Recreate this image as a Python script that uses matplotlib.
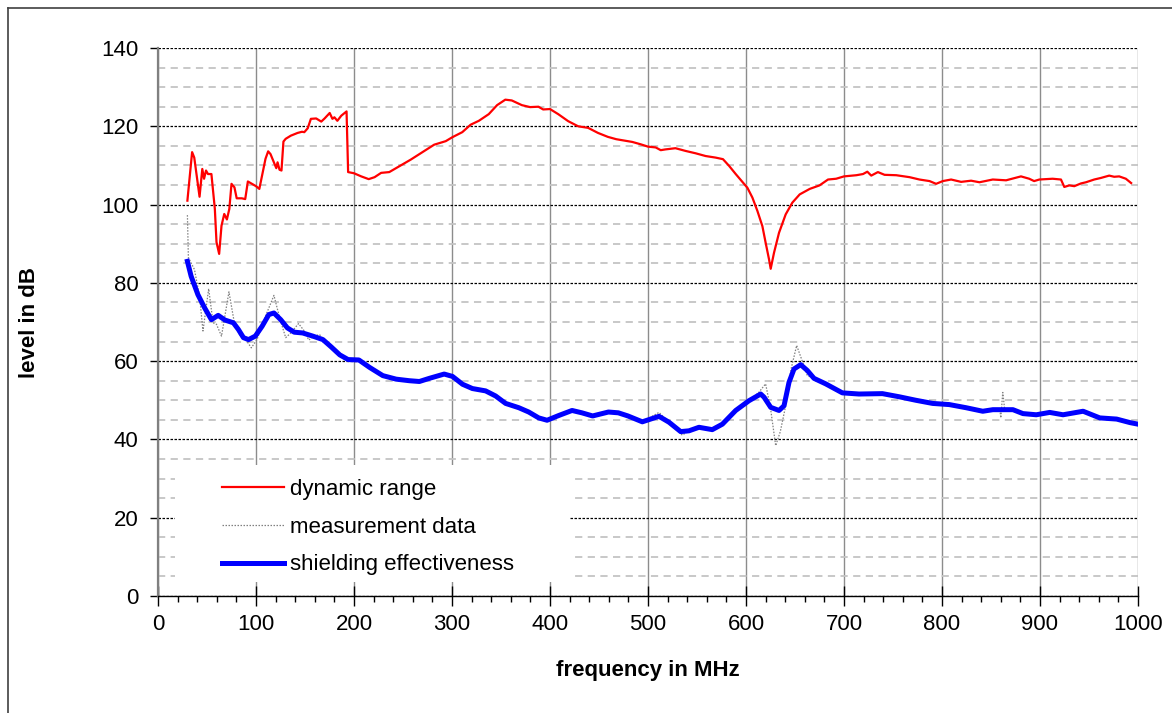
import matplotlib.pyplot as plt
import numpy as np
from matplotlib.lines import Line2D
from matplotlib.patches import Rectangle
from matplotlib.ticker import MultipleLocator

plt.rcParams['font.family'] = ['Liberation Sans', 'DejaVu Sans']

# dynamic range (red)
f_dr = [30, 34.8, 37, 42.4, 45.2, 47, 49, 51, 54.5, 56, 58, 59.7, 62.4, 64.8, 67.6, 70.3, 72.8, 75, 78, 80.3,
        85.5, 89, 91.7, 95.9, 100, 103.4, 106.2, 109.7, 112.4, 114.8, 118.3, 120.7, 122, 124, 126, 128, 130.3,
        135.5, 142.4, 146.9, 149.3, 152.8, 156, 161.4, 166.6, 170, 175.2, 178, 180, 183, 187, 192.4, 194, 200,
        207.4, 215, 221, 227.7, 236, 246.3, 258, 270, 281.8, 293.6, 300.3, 310.5, 319, 327.4, 337.5, 346, 354.4,
        361, 371.3, 379.7, 388.2, 393, 400, 408.4, 418.6, 428.7, 438.9, 449, 459, 467.6, 484, 492.5, 500, 507.8,
        513, 518, 528, 538.4, 548.6, 558.8, 569, 576.5, 582.7, 589.5, 596.3, 601.4, 606.5, 611.6, 616.7, 620,
        623.5, 625.2, 628.6, 633.7, 640.5, 647.3, 654.8, 665, 675, 683.7, 692, 700, 712.6, 719.4, 723.8, 727.8,
        734.6, 741.4, 753.3, 766.9, 777, 787.3, 794, 800.8, 809.3, 819.5, 829.7, 838.2, 851.8, 865.4, 880.6, 889,
        894, 899.3, 912.9, 921.4, 924.8, 929.9, 935, 941.8, 946.9, 955.3, 962.1, 970.6, 975.7, 980.8, 987.6, 993]
dr = [101.0, 113.4, 112, 102, 109.1, 106.6, 108.7, 107.8, 107.8, 104, 98.9, 90.4, 87.4, 94.6, 97.6, 96.2, 98.9,
      105.3, 104.4, 101.6, 101.6, 101.4, 105.9, 105.3, 104.7, 104, 107.4, 111.7, 113.6, 112.9, 110.8, 109.3, 110.8,
      108.9, 108.7, 116.1, 116.8, 117.6, 118.3, 118.6, 118.5, 119.5, 121.9, 122, 121.2, 122, 123.4, 121.9, 122.3,
      121.4, 122.7, 123.8, 108.3, 108, 107.2, 106.5, 107, 108.1, 108.3, 109.8, 111.5, 113.4, 115.3, 116.2, 117.2,
      118.5, 120.4, 121.4, 123.1, 125.4, 126.8, 126.6, 125.4, 124.9, 125, 124.3, 124.4, 123.1, 121.3, 120, 119.6,
      118.3, 117.3, 116.7, 116, 115.4, 114.8, 114.6, 113.9, 114.1, 114.4, 113.7, 113.1, 112.4, 112, 111.6, 109.9,
      107.8, 105.8, 104.3, 101.8, 98.4, 94.5, 90.3, 86, 83.6, 87.7, 92.8, 97.5, 100.5, 102.6, 104, 104.9, 106.4,
      106.6, 107.2, 107.5, 107.8, 108.4, 107.4, 108.3, 107.6, 107.5, 107, 106.4, 106, 105.3, 106, 106.4, 105.8,
      106.1, 105.7, 106.4, 106.2, 107.2, 106.6, 106, 106.4, 106.6, 106.4, 104.5, 104.9, 104.7, 105.4, 105.7, 106.4,
      106.8, 107.4, 107.1, 107.2, 106.6, 105.5]

# measurement data (grey dotted)
f_meas = [30, 31, 37.2, 42.4, 45.9, 51.7, 56.2, 59.7, 64.8, 72.4, 77.9, 83.8, 89, 95.2, 101, 109.7, 118.3, 124.1,
          130.3, 135.5, 143.4, 149.3, 153.8, 159.7, 164.8, 171.7, 185.5, 194, 205, 215.9, 229.4, 243, 256.5, 266.7,
          276.8, 292, 300.5, 310.7, 320.8, 334.3, 344.5, 354.7, 368.2, 378.3, 388.5, 397, 408.8, 422.5, 432.5,
          443.5, 459.6, 469.7, 479.5, 494.2, 511.2, 521.4, 535, 541.8, 552, 565.6, 575.9, 589.5, 603.1, 613, 620,
          625, 630.3, 635, 640.5, 646, 651.7, 656, 662.6, 669.4, 681.3, 698.3, 715.3, 739.2, 756.3, 773.4, 790.4,
          807.5, 824.6, 841.6, 855, 859, 860, 862, 864, 872.4, 882.6, 896.2, 909.9, 923.5, 944, 961, 978.2, 991.8,
          1000]
meas = [97.3, 86.5, 83.4, 76.6, 67.7, 78.5, 69.8, 69.4, 66.4, 77.7, 69.8, 66.4, 65.7, 63.4, 65.5, 71.5, 76.8, 71.1,
        66, 67.2, 69.6, 67.7, 65.4, 66.4, 66.8, 64.7, 61.6, 60.4, 60.3, 58.4, 56.3, 55.4, 55, 54.8, 55.6, 56.7, 56.1,
        54.1, 53, 52.4, 51.1, 49.2, 48.1, 47, 45.5, 44.9, 46.1, 47.4, 46.8, 46, 47, 46.8, 46, 44.5, 46.9, 44.4, 41.1,
        42.2, 43.1, 42.5, 43.9, 47.4, 49.9, 52, 54.2, 48, 38.4, 42, 48.6, 58, 64, 61, 56.3, 55.6, 54.2, 51.9, 51.6,
        51.7, 50.9, 50, 49.2, 48.9, 48.1, 47.2, 47.5, 47.8, 45.5, 52, 47.6, 47.6, 46.6, 46.3, 46.9, 46.3, 47.2, 45.5,
        45.2, 44.3, 43.9]

# shielding effectiveness (blue)
f_se = [30, 33.8, 40.7, 47.6, 54.5, 61.4, 68.3, 76.9, 82, 87.2, 92.4, 99.3, 106.2, 113.1, 118.3, 125.2, 132, 139,
        147.6, 157.9, 168.3, 176.9, 185.5, 194, 205, 215.9, 229.4, 243, 256.5, 266.7, 276.8, 292, 300.5, 310.7,
        320.8, 334.3, 344.5, 354.7, 368.2, 378.3, 388.5, 397, 408.8, 422.5, 432.5, 443.5, 459.6, 469.7, 479.5,
        494.2, 511.2, 521.4, 533.3, 541.8, 552, 565.6, 575.9, 589.5, 603.1, 615, 618.4, 625.2, 633.7, 638.8, 643.9,
        649, 655.8, 662.6, 669.4, 681.3, 698.3, 715.3, 739.2, 756.3, 773.4, 790.4, 807.5, 824.6, 841.6, 851.9,
        872.4, 882.6, 896.2, 909.9, 923.5, 944, 961, 978.2, 991.8, 1000]
se = [85.5, 81.7, 77, 73.6, 70.6, 71.7, 70.5, 69.8, 68.1, 66, 65.5, 66.4, 68.9, 71.9, 72.3, 70.6, 68.5, 67.4, 67.2,
      66.4, 65.5, 63.6, 61.6, 60.4, 60.3, 58.4, 56.3, 55.4, 55, 54.8, 55.6, 56.7, 56.1, 54.1, 53, 52.4, 51.1, 49.2,
      48.1, 47, 45.5, 44.9, 46.1, 47.4, 46.8, 46, 47, 46.8, 46, 44.5, 45.9, 44.4, 42, 42.2, 43.1, 42.5, 43.9, 47.4,
      49.9, 51.6, 50.8, 48.2, 47.4, 48.6, 54.6, 58, 59.1, 57.6, 55.6, 54.2, 51.9, 51.6, 51.7, 50.9, 50, 49.2, 48.9,
      48.1, 47.2, 47.6, 47.6, 46.6, 46.3, 46.9, 46.3, 47.2, 45.5, 45.2, 44.3, 43.9]

labels = ['dynamic range', 'measurement data', 'shielding effectiveness']

fig = plt.figure(figsize=(11.72, 7.13), dpi=100)
ax = fig.add_axes([158/1172, 1-596/713, 980/1172, 548/713])

ax.plot(f_dr, dr, color='#ff0000', lw=1.6, label=labels[0], zorder=3)
ax.plot(f_meas, meas, color='#808080', lw=0.9, ls=(0, (1.2, 1.2)), label=labels[1], zorder=3)
ax.plot(f_se, se, color='#0000ff', lw=3.6, label=labels[2], zorder=4, solid_joinstyle='round')

ax.set_xlim(0, 1000)
ax.set_ylim(0, 140)
ax.xaxis.set_major_locator(MultipleLocator(100))
ax.xaxis.set_minor_locator(MultipleLocator(20))
ax.yaxis.set_major_locator(MultipleLocator(20))
ax.yaxis.set_minor_locator(MultipleLocator(5))

# gitter
ax.set_axisbelow(True)
ax.grid(axis='x', which='major', color='#8c8c8c', lw=1.0, ls='-')
ax.grid(axis='y', which='minor', color='#c4c4c4', lw=1.3, ls=(0, (4, 3)))
ax.grid(axis='y', which='major', color='#000000', lw=0.9, ls=(0, (2, 1.2)))

for s in ['top', 'right']:
    ax.spines[s].set_visible(False)
ax.spines['left'].set_color('#808080')
ax.spines['left'].set_linewidth(1.6)
ax.spines['bottom'].set_color('#000000')
ax.spines['bottom'].set_linewidth(1.0)

ax.tick_params(axis='x', which='major', direction='inout', length=14, width=1, pad=6, labelsize=16)
ax.tick_params(axis='x', which='minor', direction='out', length=4.5, width=1)
ax.tick_params(axis='y', which='major', direction='out', length=6, width=1, pad=8, labelsize=16)
ax.tick_params(axis='y', which='minor', length=0)

ax.set_xlabel('frequency in MHz', fontsize=16, fontweight='bold', labelpad=18)
ax.set_ylabel('level in dB', fontsize=16, fontweight='bold', labelpad=44)

# weisses feld hinter der legende
ax.add_patch(Rectangle((17/980, 14/548), 395/980, 117/548, transform=ax.transAxes,
                       facecolor='white', edgecolor='none', zorder=2))
ax.legend(loc='upper left', bbox_to_anchor=(64/980, 117/548), frameon=False, fontsize=16,
          handlelength=2.8, handletextpad=0.25, labelspacing=0.75, borderpad=0, borderaxespad=0)

# rahmen oben und links
fig.add_artist(Line2D([8/1172, 1], [1-8/713, 1-8/713], color='#404040', lw=1.2))
fig.add_artist(Line2D([8/1172, 8/1172], [0, 1-8/713], color='#404040', lw=1.2))

fig.savefig('out.png', dpi=100)
